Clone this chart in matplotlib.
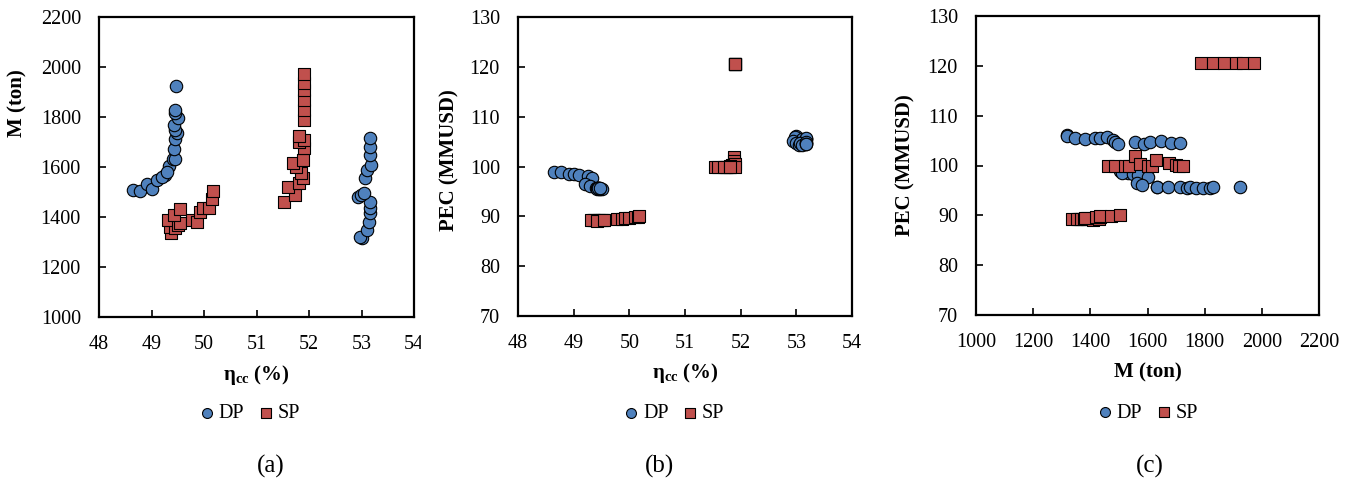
import matplotlib
matplotlib.use("Agg")
import matplotlib.pyplot as plt
from matplotlib.patches import Rectangle

# Fonts: Times-like serif everywhere
plt.rcParams['font.family'] = ['Liberation Serif', 'DejaVu Serif']
plt.rcParams['mathtext.fontset'] = 'custom'
plt.rcParams['mathtext.rm'] = 'Liberation Serif'
plt.rcParams['mathtext.bf'] = 'Liberation Serif:bold'
plt.rcParams['mathtext.it'] = 'Liberation Serif:italic'

# ---- data ----
# DP: double pressure
dp_eta = [48.64, 48.78, 48.92, 49.00, 49.10, 49.26, 49.33, 49.20, 49.29, 49.40,
          49.44, 49.42, 49.45, 49.48, 49.45, 49.42, 49.51, 49.45, 49.44, 49.47,
          53.00, 52.98, 53.10, 53.15, 53.17, 53.17, 53.17, 52.94, 52.99, 53.05,
          53.07, 53.10, 53.18, 53.17, 53.17, 53.17]
dp_m = [1508, 1505, 1531, 1512, 1548, 1568, 1603, 1562, 1580, 1633,
        1633, 1672, 1712, 1737, 1750, 1768, 1795, 1817, 1830, 1925,
        1317, 1320, 1348, 1381, 1415, 1435, 1460, 1481, 1488, 1497,
        1555, 1588, 1608, 1648, 1681, 1715]
dp_pec = [98.8, 98.8, 98.5, 98.5, 98.2, 98.1, 97.6, 96.4, 96.1, 95.7,
          95.6, 95.6, 95.6, 95.5, 95.6, 95.5, 95.5, 95.5, 95.6, 95.6,
          106.1, 105.9, 105.6, 105.4, 105.6, 105.6, 105.7, 105.1, 104.7, 104.3,
          104.7, 104.4, 104.7, 105.0, 104.5, 104.5]

# SP: single pressure
sp_eta = [49.37, 49.35, 49.45, 49.32, 49.51, 49.55, 49.42, 49.54, 49.77, 49.86,
          49.92, 49.99, 50.10, 50.15, 50.18,
          51.53, 51.73, 51.60, 51.80, 51.88, 51.85, 51.76, 51.70, 51.88, 51.90,
          51.80, 51.90, 51.80,
          51.90, 51.90, 51.90, 51.90, 51.90, 51.90]
sp_m = [1337, 1360, 1355, 1388, 1368, 1378, 1408, 1431, 1388, 1381,
        1419, 1435, 1435, 1471, 1504,
        1461, 1488, 1521, 1535, 1555, 1575, 1601, 1615, 1628, 1675,
        1700, 1710, 1724,
        1788, 1828, 1868, 1908, 1935, 1972]
sp_pec = [89.3, 89.3, 89.3, 89.3, 89.3, 89.3, 89.0, 89.2, 89.4, 89.5,
          89.6, 89.7, 89.8, 89.9, 90.0,
          100.0, 100.0, 99.9, 99.8, 101.9, 100.4, 99.8, 100.0, 101.1, 100.5,
          100.2, 100.0, 99.8,
          120.6, 120.6, 120.6, 120.6, 120.6, 120.6]

eta_ticks = [48, 49, 50, 51, 52, 53, 54]
m_ticks = [1000, 1200, 1400, 1600, 1800, 2000, 2200]
pec_ticks = [70, 80, 90, 100, 110, 120, 130]

DP_COLOR = '#4F81BD'
SP_COLOR = '#C0504D'
ETA_LABEL = r'η$_{\mathbf{cc}}$ (%)'

W, H = 1357, 487
fig = plt.figure(figsize=(W / 100, H / 100), dpi=100)


def px_axes(x0, x1, y0, y1):
    """axes from pixel box (top-left origin)"""
    return fig.add_axes([x0 / W, (H - y1) / H, (x1 - x0) / W, (y1 - y0) / H])


def style(ax, xlim, xticks, ylim, yticks):
    ax.set_xlim(xlim)
    ax.set_ylim(ylim)
    ax.set_xticks(xticks)
    ax.set_yticks(yticks)
    ax.tick_params(direction='in', length=5, width=1.2, labelsize=14.5, pad=13,
                   top=False, right=False)
    for s in ax.spines.values():
        s.set_linewidth(1.6)
        s.set_color('black')


def scatter(ax, xd, yd, xs, ys):
    ax.scatter(xd, yd, s=80, marker='o', color=DP_COLOR, edgecolor='black',
               linewidth=0.8, label='DP', zorder=3)
    ax.scatter(xs, ys, s=76, marker='s', color=SP_COLOR, edgecolor='black',
               linewidth=0.8, label='SP', zorder=3)


def legend(ax, xc, yc):
    ax.legend(loc='center', bbox_to_anchor=(xc, yc), ncol=2, frameon=False,
              fontsize=14.5, handlelength=0.7, handletextpad=0.25,
              columnspacing=0.7, markerscale=0.8, borderpad=0)


# (a) M vs eta
ax1 = px_axes(99, 414, 17, 317)
scatter(ax1, dp_eta, dp_m, sp_eta, sp_m)
style(ax1, (48, 54), eta_ticks, (1000, 2200), m_ticks)
ax1.set_xlabel(ETA_LABEL, fontsize=15, fontweight='bold', va='center')
ax1.xaxis.set_label_coords(0.5, -0.193)
ax1.set_ylabel('M (ton)', fontsize=15, fontweight='bold', va='center')
ax1.yaxis.set_label_coords(-0.26, 0.713)
legend(ax1, 0.479, -0.322)

# (b) PEC vs eta
ax2 = px_axes(518, 852, 17, 316)
scatter(ax2, dp_eta, dp_pec, sp_eta, sp_pec)
style(ax2, (48, 54), eta_ticks, (70, 130), pec_ticks)
ax2.set_xlabel(ETA_LABEL, fontsize=15, fontweight='bold', va='center')
ax2.xaxis.set_label_coords(0.5, -0.19)
ax2.set_ylabel('PEC (MMUSD)', fontsize=15, fontweight='bold', va='center')
ax2.yaxis.set_label_coords(-0.204, 0.52)
legend(ax2, 0.467, -0.326)

# (c) PEC vs M
ax3 = px_axes(976, 1319, 16, 315)
scatter(ax3, dp_m, dp_pec, sp_m, sp_pec)
style(ax3, (1000, 2200), m_ticks, (70, 130), pec_ticks)
ax3.set_xlabel('M (ton)', fontsize=15, fontweight='bold', va='center')
ax3.xaxis.set_label_coords(0.5, -0.193)
ax3.set_ylabel('PEC (MMUSD)', fontsize=15, fontweight='bold', va='center')
ax3.yaxis.set_label_coords(-0.207, 0.5)
legend(ax3, 0.501, -0.328)

# panel (a) was cropped in the source: the "54" label is cut on its right half
fig.patches.append(Rectangle((421 / W, (H - 352) / H), 16 / W, 24 / H,
                             transform=fig.transFigure, color='white',
                             zorder=10))

# panel captions
for xc, txt in [(271, '(a)'), (660, '(b)'), (1150, '(c)')]:
    fig.text(xc / W, (H - 466) / H, txt, fontsize=18, ha='center', va='center')

fig.savefig('out.png', dpi=100)
